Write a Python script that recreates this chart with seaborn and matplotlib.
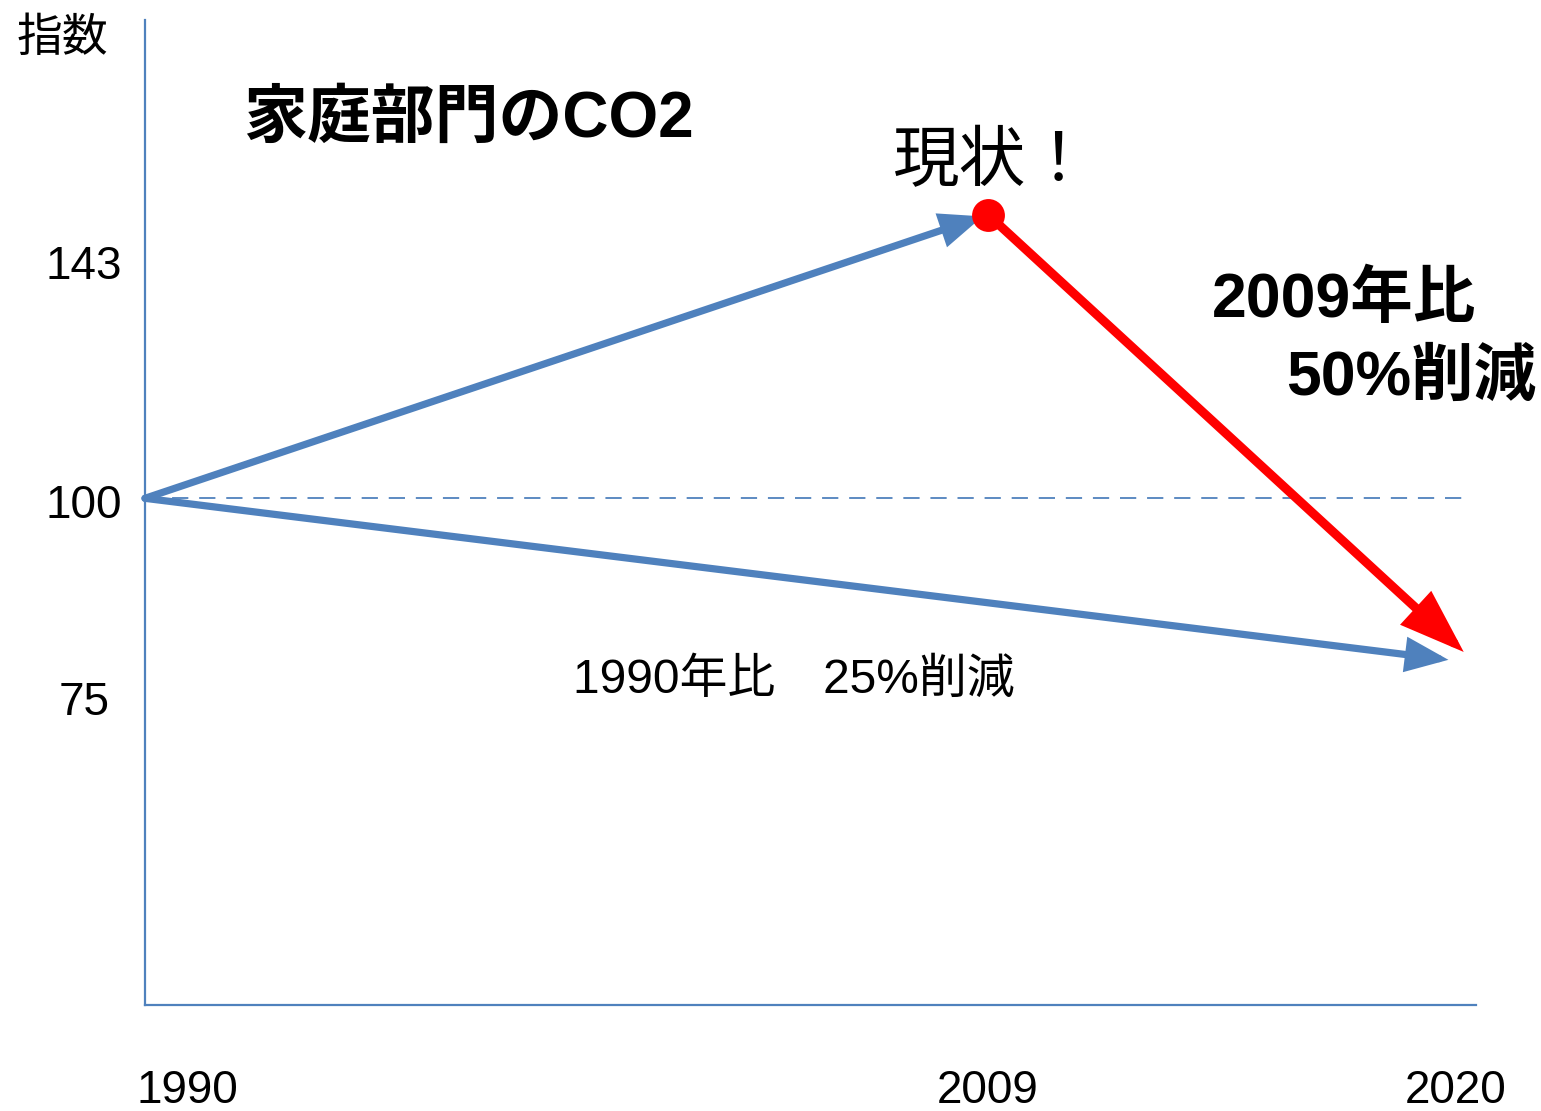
import matplotlib
matplotlib.use("Agg")
import matplotlib.pyplot as plt
from matplotlib.transforms import ScaledTranslation
import seaborn as sns
import pandas as pd

# ---- data ----
years = [1990, 2009, 2020]
actual_values = [100, 143]          # 1990 -> 2009 (現状)
target_2009_values = [143, 75]      # 2009 -> 2020 (2009年比50%削減)
target_1990_values = [100, 75]      # 1990 -> 2020 (1990年比25%削減)
baseline_value = 100
x_tick_labels = ["1990", "2009", "2020"]
y_ticks = [143, 100, 75]
y_tick_labels = ["143", "100", "75"]

BLUE = "#4F81BD"
RED = "#FF0000"

sns.set_theme(style="white")
plt.rcParams["font.family"] = ["Liberation Sans", "Noto Sans CJK JP", "DejaVu Sans"]
plt.rcParams["text.color"] = "black"
plt.rcParams["xtick.color"] = "black"
plt.rcParams["ytick.color"] = "black"

W, H = 1541, 1111
fig = plt.figure(figsize=(W / 100, H / 100), dpi=100)
ax = fig.add_axes([145 / W, 106 / H, 1331 / W, 985 / H])

ax.set_xlim(1990, 2020)
ax.set_ylim(23.2, 172.5)

# dashed 100 baseline
base_df = pd.DataFrame({"year": [1990, 2019.7], "value": [baseline_value] * 2})
sns.lineplot(data=base_df, x="year", y="value", ax=ax, color=BLUE,
             linewidth=1.3, linestyle=(0, (9, 6)))

# arrows
def arrow(x0, y0, x1, y1, color, lw, hl, hw, shrinkB):
    ax.annotate("", xy=(x1, y1), xytext=(x0, y0),
                arrowprops=dict(arrowstyle=f"-|>,head_length={hl},head_width={hw}",
                                color=color, lw=lw, shrinkA=0, shrinkB=shrinkB,
                                mutation_scale=1, joinstyle="miter"),
                zorder=3)

arrow(years[0], actual_values[0], years[1], actual_values[1], BLUE, 5.2, 22, 9, 4)
arrow(years[0], target_1990_values[0], years[2], target_1990_values[1], BLUE, 5.2, 22, 9, 20)
arrow(years[1], target_2009_values[0], years[2], target_2009_values[1], RED, 6.5, 34, 12, 12)

# current status dot
dot_df = pd.DataFrame({"year": [years[1]], "value": [actual_values[1]]})
sns.scatterplot(data=dot_df, x="year", y="value", ax=ax, color=RED, s=560,
                edgecolor=RED, linewidth=0, zorder=4)

# spines
sns.despine(ax=ax)
for s in ["left", "bottom"]:
    ax.spines[s].set_color(BLUE)
    ax.spines[s].set_linewidth(1.6)
ax.set_xlabel("")
ax.set_ylabel("")

ax.set_xticks(years)
ax.set_xticklabels(x_tick_labels, fontsize=33, color="black")
ax.set_yticks(y_ticks)
ax.set_yticklabels(y_tick_labels, fontsize=33, color="black")
ax.tick_params(axis="x", length=0, pad=46)
ax.tick_params(axis="y", length=0, pad=44)
for lab in ax.get_yticklabels():
    lab.set_horizontalalignment("center")

# label placement nudges (pixels)
for lab, dx in zip(ax.get_xticklabels(), [42, 0, -20]):
    lab.set_transform(lab.get_transform() + ScaledTranslation(dx / 100, 0, fig.dpi_scale_trans))
for lab, dy in zip(ax.get_yticklabels(), [47, 3, 35]):
    lab.set_transform(lab.get_transform() + ScaledTranslation(0, -dy / 100, fig.dpi_scale_trans))

def ftext(px, py, s, **kw):
    fig.text(px / W, 1 - py / H, s, color="black", **kw)

ftext(62, 38, "指数", fontsize=33, ha="center", va="center",
      family=["Noto Sans CJK JP"])
ftext(243, 120, "家庭部門のCO2", fontsize=46, fontweight="bold", ha="left", va="center",
      family=["Liberation Sans", "Noto Sans CJK JP"])
ftext(993, 162, "現状！", fontsize=48, ha="center", va="center",
      family=["Noto Sans CJK JP"])
ftext(1476, 300, "2009年比", fontsize=45, fontweight="bold", ha="right", va="center",
      family=["Liberation Sans", "Noto Sans CJK JP"])
ftext(1536, 378, "50%削減", fontsize=45, fontweight="bold", ha="right", va="center",
      family=["Liberation Sans", "Noto Sans CJK JP"])
ftext(573, 680, "1990年比　25%削減", fontsize=34.5, ha="left", va="center",
      family=["Liberation Sans", "Noto Sans CJK JP"])

fig.savefig("out.png", dpi=100, facecolor="white")
